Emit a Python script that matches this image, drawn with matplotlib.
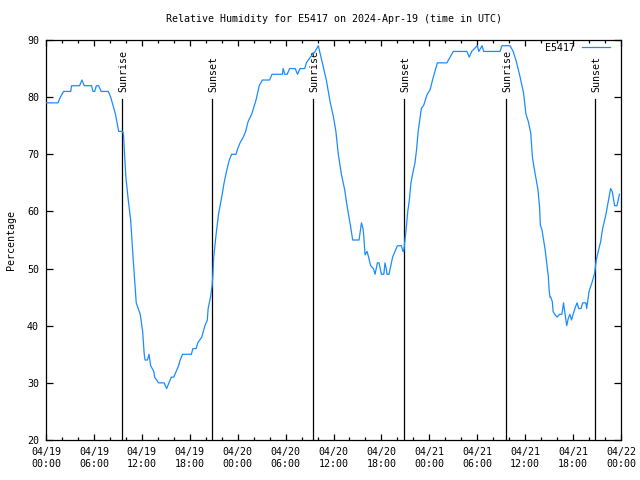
import numpy as np
import pandas as pd
import matplotlib
matplotlib.use("Agg")
import matplotlib.pyplot as plt
import matplotlib.dates as mdates
from matplotlib.ticker import MultipleLocator

# hours since 2024-04-19 00:00 UTC and relative humidity (%)
hours = [0.0, 1.5, 1.8, 2.2, 3.1, 3.2, 4.2, 4.5, 4.8, 5.7, 5.9, 6.1, 6.3, 6.6, 6.9,
         7.8, 8.1, 8.3, 8.5, 8.7, 8.9, 9.1, 9.6, 9.7, 10.0, 10.3, 10.6, 10.9, 11.1,
         11.3, 11.8, 12.1, 12.3, 12.4, 12.7, 12.9, 13.1, 13.5, 13.6, 14.1, 14.8,
         15.1, 15.4, 15.7, 16.0, 16.3, 16.6, 16.8, 17.1, 18.2, 18.4, 18.8, 19.0,
         19.5, 19.9, 20.2, 20.3, 20.6, 20.8, 20.9, 21.0, 21.3, 21.6, 22.0, 22.3,
         22.6, 22.95, 23.25, 23.8, 24.0, 24.3, 24.7, 25.0, 25.3, 25.75, 26.3, 26.7,
         27.1, 28.0, 28.3, 29.6, 29.7, 29.9, 30.2, 30.5, 31.2, 31.5, 31.8, 32.4,
         32.6, 33.1, 33.7, 34.1, 34.6, 35.1, 35.6, 36.0, 36.3, 36.6, 37.0, 37.4,
         37.65, 37.85, 38.15, 38.4, 39.2, 39.5, 39.7, 39.8, 39.95, 40.2, 40.4,
         40.65, 41.0, 41.2, 41.5, 41.7, 42.0, 42.3, 42.45, 42.6, 42.7, 42.95, 43.1,
         43.4, 43.7, 44.0, 44.5, 44.7, 44.8, 44.95, 45.1, 45.3, 45.5, 45.7, 45.9,
         46.2, 46.4, 46.6, 46.8, 47.0, 47.3, 47.7, 48.1, 48.4, 48.7, 49.0, 50.2,
         50.6, 51.0, 52.7, 53.0, 53.3, 54.0, 54.2, 54.6, 54.8, 55.4, 56.85, 57.1,
         58.1, 58.5, 58.9, 59.35, 59.8, 60.1, 60.4, 60.7, 60.9, 61.1, 61.35, 61.6,
         61.8, 61.9, 62.1, 62.3, 62.5, 62.7, 62.9, 63.0, 63.1, 63.2, 63.4, 63.5,
         63.7, 64.0, 64.3, 64.6, 64.8, 65.0, 65.2, 65.4, 65.6, 65.8, 66.0, 66.3,
         66.5, 66.7, 67.0, 67.2, 67.6, 67.7, 68.0, 68.4, 68.7, 68.9, 69.2, 69.45,
         69.7, 70.1, 70.4, 70.7, 70.9, 71.2, 71.5, 71.8]
humidity = [79, 79, 80, 81, 81, 82, 82, 83, 82, 82, 81, 81, 82, 82, 81,
            81, 80, 79, 78, 77, 75.5, 74, 74, 73.5, 66, 62, 58.5, 52, 48,
            44, 42, 39, 35, 34, 34, 35, 33, 32, 31, 30, 30,
            29, 30, 31, 31, 32, 33, 34, 35, 35, 36, 36, 37,
            38, 40, 41, 43, 45, 47, 49, 52, 56, 59.5, 62.5, 65,
            67, 69, 70, 70, 71, 72, 73, 74, 75.7, 77, 79.5, 82,
            83, 83, 84, 84, 85, 84, 84, 85, 85, 84, 85, 85,
            86, 87, 88, 89, 86, 83, 79, 76.5, 74, 70, 66.4, 63.8,
            61.4, 59.7, 57.3, 55, 55, 58, 57, 55.5, 52.4, 53, 52,
            50.5, 50, 49, 51, 51, 49, 49, 51, 50, 49, 49, 50,
            52, 53, 54, 54, 53, 53, 55, 57, 60, 62, 65, 66.5,
            68.5, 70.8, 74, 76, 78, 78.6, 80.4, 81.3, 83, 84.5, 86, 86,
            87, 88, 88, 87, 88, 89, 88, 89, 88, 88, 88, 89,
            89, 88, 86.2, 83.6, 80.7, 77, 75.7, 73.7, 69.6, 67.8, 65.8, 63.8,
            60.8, 57.6, 56.8, 55, 53.3, 51, 48.6, 46.3, 45, 45, 44.2, 42.5,
            42, 41.5, 42, 42, 44, 42, 40, 41.3, 42, 41, 42, 43.3,
            44, 43, 43, 44, 44, 43, 46, 47.7, 49.2, 51.5, 53.3, 54.7,
            57, 59.4, 61.7, 64, 63.5, 61, 61, 63]

sun_hours = [9.56, 20.83, 33.47, 44.83, 57.56, 68.79]
sun_labels = ["Sunrise", "Sunset", "Sunrise", "Sunset", "Sunrise", "Sunset"]

start = pd.Timestamp("2024-04-19 00:00")
times = start + pd.to_timedelta(hours, unit="h")
sun_times = start + pd.to_timedelta(sun_hours, unit="h")

mono = "DejaVu Sans Mono"
fs = 7.2
blue = "#1a8cff"

fig = plt.figure(figsize=(6.4, 4.8), dpi=100)
ax = fig.add_axes([46 / 640, 1 - 440 / 480, 575 / 640, 400 / 480])

for t, lab in zip(sun_times, sun_labels):
    ax.plot([t, t], [20, 79.7], color="black", lw=0.9, zorder=2)
    ax.text(t + pd.Timedelta(minutes=10), 80.9, lab, rotation=90, ha="center",
            va="bottom", fontsize=fs, family=mono, color="black")

ax.plot(times, humidity, color=blue, lw=0.9, zorder=3, label="E5417")

ax.set_xlim(start, start + pd.Timedelta(hours=72))
ax.set_ylim(20, 90)
ax.xaxis.set_major_locator(mdates.HourLocator(byhour=[0, 6, 12, 18]))
ax.xaxis.set_minor_locator(mdates.HourLocator(interval=2))
ax.xaxis.set_major_formatter(mdates.DateFormatter("%m/%d\n%H:%M"))
ax.yaxis.set_major_locator(MultipleLocator(10))

ax.tick_params(which="both", direction="in", top=True, right=True,
               labelsize=fs, width=0.9, color="black")
ax.tick_params(which="major", length=4.5, pad=5)
ax.tick_params(axis="y", which="major", length=5)
ax.tick_params(which="minor", length=2.3)
for lbl in ax.get_xticklabels() + ax.get_yticklabels():
    lbl.set_family(mono)
for sp in ax.spines.values():
    sp.set_linewidth(0.9)

ax.set_ylabel("Percentage", fontsize=fs, family=mono, labelpad=8)
ax.set_title("Relative Humidity for E5417 on 2024-Apr-19 (time in UTC)",
             fontsize=fs, family=mono, pad=13)

leg = ax.legend(loc="upper right", frameon=False, prop={"family": mono, "size": fs},
                handlelength=2.8, handletextpad=0.7, markerfirst=False,
                borderaxespad=0, bbox_to_anchor=(1 - 7 / 575, 1 + 1 / 400))

fig.savefig("out.png", dpi=100)
